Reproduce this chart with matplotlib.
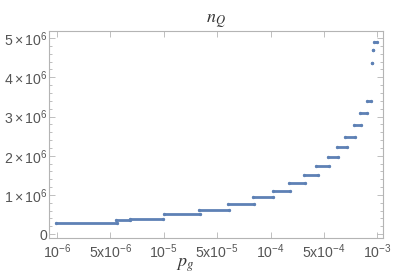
import numpy as np
import matplotlib
matplotlib.use("Agg")
import matplotlib.pyplot as plt
from matplotlib.ticker import FixedLocator, FixedFormatter, MultipleLocator

plt.rcParams['mathtext.fontset'] = 'custom'
plt.rcParams['mathtext.rm'] = 'Liberation Sans'
plt.rcParams['mathtext.it'] = 'Liberation Sans:italic'
plt.rcParams['font.family'] = 'Liberation Sans'

# step segments: p_g start, p_g end, n_Q
seg_start = [9.7e-7, 5.38e-6, 6.46e-6, 1.0e-5, 2.90e-5, 5.77e-5, 7.98e-5, 1.08e-4, 1.76e-4,
             2.76e-4, 3.97e-4, 5.27e-4, 5.95e-4, 6.59e-4, 7.41e-4, 8.02e-4, 8.75e-4,
             9.29e-4, 9.51e-4, 9.56e-4]
seg_end = [5.43e-6, 6.46e-6, 9.92e-6, 2.99e-5, 5.85e-5, 8.09e-5, 1.083e-4, 1.81e-4, 2.85e-4,
           4.19e-4, 5.34e-4, 6.04e-4, 6.74e-4, 7.48e-4, 8.12e-4, 8.79e-4, 9.21e-4,
           9.29e-4, 9.51e-4, 1.0e-3]
n_q = [0.28e6, 0.365e6, 0.38e6, 0.50e6, 0.62e6, 0.77e6, 0.94e6, 1.11e6, 1.30e6,
       1.505e6, 1.73e6, 1.97e6, 2.22e6, 2.49e6, 2.78e6, 3.09e6, 3.40e6,
       4.36e6, 4.69e6, 4.91e6]

x_ticks = [1e-6, 5e-6, 1e-5, 5e-5, 1e-4, 5e-4, 1e-3]
x_labels = [r'$10^{-6}$', r'$5\mathrm{x}10^{-6}$', r'$10^{-5}$', r'$5\mathrm{x}10^{-5}$',
            r'$10^{-4}$', r'$5\mathrm{x}10^{-4}$', r'$10^{-3}$']
y_ticks = [0, 1e6, 2e6, 3e6, 4e6, 5e6]
y_labels = ['0', r'$1\times10^{6}$', r'$2\times10^{6}$', r'$3\times10^{6}$',
            r'$4\times10^{6}$', r'$5\times10^{6}$']

# the axis puts the ticks evenly spaced -> piecewise log scale
L = np.log10(x_ticks)
I = np.arange(len(x_ticks), dtype=float)

def pw(v, a, b):
    v = np.asarray(v, dtype=float)
    out = np.interp(v, a, b)
    lo = v < a[0]
    hi = v > a[-1]
    out = np.where(lo, b[0] + (v - a[0]) * (b[1] - b[0]) / (a[1] - a[0]), out)
    out = np.where(hi, b[-1] + (v - a[-1]) * (b[-1] - b[-2]) / (a[-1] - a[-2]), out)
    return out

def fwd(x):
    with np.errstate(divide='ignore', invalid='ignore'):
        return pw(np.log10(x), L, I)

def inv(i):
    return 10 ** pw(i, I, L)

blue = '#5e81b5'
fig = plt.figure(figsize=(3.95, 2.75), dpi=100)
ax = fig.add_axes([0.124, 0.1345, 0.846, 0.7525])
ax.set_xscale('function', functions=(fwd, inv))

for a, b, y in zip(seg_start, seg_end, n_q):
    ax.plot([a, b], [y, y], color=blue, lw=2.0, solid_capstyle='round',
            marker='o', ms=2.4, mew=0)

ax.set_xlim(inv(-0.15), inv(6.11))
ax.set_ylim(-0.1e6, 5.18e6)

ax.xaxis.set_major_locator(FixedLocator(x_ticks))
ax.xaxis.set_major_formatter(FixedFormatter(x_labels))
ax.xaxis.set_minor_locator(FixedLocator([]))
ax.yaxis.set_major_locator(FixedLocator(y_ticks))
ax.yaxis.set_major_formatter(FixedFormatter(y_labels))
ax.yaxis.set_minor_locator(MultipleLocator(0.2e6))

frame = '#b4b4b4'
for s in ax.spines.values():
    s.set_color(frame)
    s.set_linewidth(0.8)
ax.tick_params(which='both', direction='in', top=True, right=True, color=frame,
               labelcolor='#555555', labelsize=10.2, width=0.6)
ax.tick_params(which='major', length=4)
ax.tick_params(which='minor', length=2)
ax.tick_params(axis='y', pad=1)
ax.tick_params(axis='x', pad=3)

ax.set_title(r'$n_Q$', fontsize=13, color='#333333', pad=6, math_fontfamily='stix')
ax.set_xlabel(r'$p_g$', fontsize=13, color='#333333', math_fontfamily='stix', va='center')
ax.xaxis.set_label_coords(0.407, -0.13)

fig.savefig('out.png', dpi=100)
